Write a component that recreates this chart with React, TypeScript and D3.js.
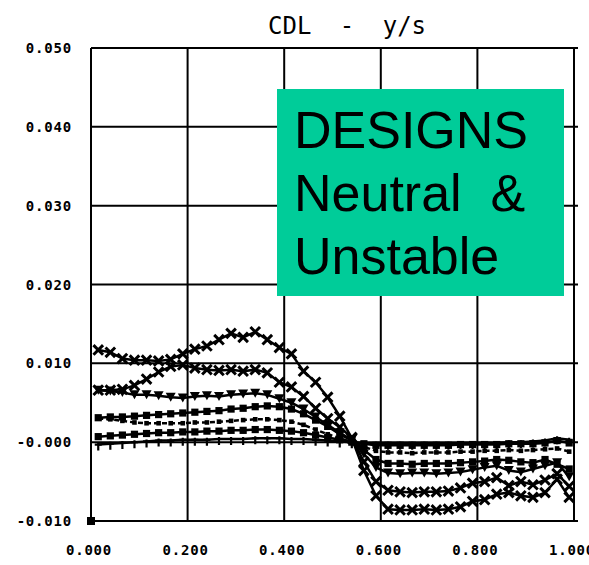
import React from "react";
import * as d3 from "d3";

const xs = [0.015,0.04,0.065,0.09,0.115,0.14,0.165,0.19,0.215,0.24,0.265,0.29,0.315,0.34,0.365,0.39,0.415,0.44,0.465,0.49,0.515,0.54,0.565,0.59,0.615,0.64,0.665,0.69,0.715,0.74,0.765,0.79,0.815,0.84,0.865,0.89,0.915,0.94,0.965,0.99];

const seriesA = [0.0117,0.0114,0.0106,0.0104,0.0104,0.0103,0.0105,0.0112,0.0118,0.0122,0.0130,0.0138,0.0133,0.0140,0.0130,0.0120,0.0112,0.0090,0.0076,0.0057,0.0033,0.0005,-0.0036,-0.0068,-0.0085,-0.0086,-0.0086,-0.0085,-0.0086,-0.0085,-0.0082,-0.0075,-0.0073,-0.0066,-0.0064,-0.0068,-0.0070,-0.0064,-0.0047,-0.0070];
const seriesB = [0.0066,0.0066,0.0067,0.0072,0.0080,0.0089,0.0096,0.0098,0.0094,0.0092,0.0091,0.0092,0.0090,0.0092,0.0088,0.0076,0.0070,0.0058,0.0043,0.0030,0.0019,0.0006,-0.0025,-0.0050,-0.0061,-0.0063,-0.0064,-0.0063,-0.0063,-0.0062,-0.0058,-0.0052,-0.0050,-0.0045,-0.0055,-0.0050,-0.0054,-0.0048,-0.0040,-0.0056];
const seriesB2 = [0.0066,0.0065,0.0063,0.0060,0.0060,0.0059,0.0057,0.0056,0.0058,0.0059,0.0058,0.0060,0.0061,0.0062,0.0060,0.0055,0.0050,0.0042,0.0032,0.0022,0.0012,0.0003,-0.0015,-0.0032,-0.0039,-0.0040,-0.0039,-0.0039,-0.0040,-0.0039,-0.0038,-0.0035,-0.0032,-0.0030,-0.0036,-0.0038,-0.0034,-0.0030,-0.0026,-0.0044];
const seriesC = [0.0031,0.0032,0.0032,0.0033,0.0034,0.0035,0.0036,0.0037,0.0038,0.0039,0.0040,0.0042,0.0043,0.0045,0.0046,0.0045,0.0042,0.0036,0.0028,0.0020,0.0010,0.0002,-0.0010,-0.0022,-0.0027,-0.0027,-0.0028,-0.0027,-0.0027,-0.0027,-0.0026,-0.0025,-0.0024,-0.0022,-0.0023,-0.0025,-0.0026,-0.0022,-0.0028,-0.0034];
const seriesC2 = [0.0030,0.0029,0.0027,0.0025,0.0024,0.0024,0.0024,0.0024,0.0025,0.0025,0.0026,0.0027,0.0028,0.0029,0.0029,0.0028,0.0026,0.0022,0.0016,0.0010,0.0005,0.0000,-0.0006,-0.0011,-0.0013,-0.0013,-0.0014,-0.0013,-0.0013,-0.0013,-0.0012,-0.0012,-0.0011,-0.0011,-0.0010,-0.0011,-0.0010,-0.0009,-0.0008,-0.0012];
const seriesD = [0.0007,0.0008,0.0009,0.0010,0.0011,0.0012,0.0012,0.0013,0.0013,0.0014,0.0014,0.0015,0.0015,0.0016,0.0016,0.0015,0.0014,0.0012,0.0009,0.0006,0.0003,0.0000,-0.0002,-0.0004,-0.0004,-0.0004,-0.0004,-0.0004,-0.0004,-0.0004,-0.0003,-0.0003,-0.0003,-0.0003,-0.0002,-0.0002,-0.0002,-0.0001,0.0002,-0.0001];
const seriesE = [-0.0003,-0.0002,-0.0001,0.0000,0.0001,0.0002,0.0002,0.0003,0.0003,0.0003,0.0004,0.0004,0.0004,0.0005,0.0005,0.0005,0.0004,0.0004,0.0003,0.0002,0.0001,0.0000,-0.0001,-0.0002,-0.0002,-0.0002,-0.0002,-0.0002,-0.0002,-0.0002,-0.0001,-0.0001,-0.0001,-0.0001,0.0000,0.0000,0.0001,0.0002,0.0005,0.0003];

const xTicks = [0, 0.2, 0.4, 0.6, 0.8, 1.0];
const xTickLabels = ["0.000", "0.200", "0.400", "0.600", "0.800", "1.000"];
const yTicks = [0.05, 0.04, 0.03, 0.02, 0.01, 0.0, -0.01];
const yTickLabels = ["0.050", "0.040", "0.030", "0.020", "0.010", "-0.000", "-0.010"];
const titleText = "CDL - y/s";
const boxLines = ["DESIGNS", "Neutral  &", "Unstable"];

type Marker = "x" | "v" | "sq" | "dot" | "plus";
const series: { values: number[]; marker: Marker; dash?: string }[] = [
  { values: seriesE, marker: "plus" },
  { values: seriesD, marker: "sq" },
  { values: seriesC2, marker: "dot", dash: "5 3" },
  { values: seriesC, marker: "sq" },
  { values: seriesB2, marker: "v" },
  { values: seriesB, marker: "x" },
  { values: seriesA, marker: "x" },
];

const x = d3.scaleLinear().domain([0, 1]).range([91, 574]);
const y = d3.scaleLinear().domain([-0.01, 0.05]).range([521, 48]);

function MarkerShape({ m, cx, cy }: { m: Marker; cx: number; cy: number }) {
  if (m === "x") {
    const s = 4.8;
    return (
      <path
        d={`M${cx - s},${cy - s}L${cx + s},${cy + s}M${cx - s},${cy + s}L${cx + s},${cy - s}`}
        stroke="#000"
        strokeWidth={3}
      />
    );
  }
  if (m === "v") {
    return (
      <path
        d={`M${cx - 5},${cy - 4.5}L${cx + 5},${cy - 4.5}L${cx},${cy + 4.5}Z`}
        fill="#000"
      />
    );
  }
  if (m === "sq") {
    return <rect x={cx - 3.6} y={cy - 3.6} width={7.2} height={7.2} fill="#000" />;
  }
  if (m === "dot") {
    return <rect x={cx - 2.3} y={cy - 2.3} width={4.6} height={4.6} fill="#000" />;
  }
  return (
    <path
      d={`M${cx - 3.5},${cy}L${cx + 3.5},${cy}M${cx},${cy - 2}L${cx},${cy + 6}`}
      stroke="#000"
      strokeWidth={2.2}
    />
  );
}

export default function App() {
  const line = d3
    .line<number>()
    .x((_, i) => x(xs[i]))
    .y((d) => y(d));
  const labelFont = "'DejaVu Sans Mono', monospace";
  return (
    <svg
      width={589}
      height={565}
      style={{ position: "absolute", left: 0, top: 0, background: "#fff" }}
    >
      <rect x={0} y={0} width={589} height={565} fill="#fff" />
      <text
        x={268}
        y={34}
        fontFamily={labelFont}
        fontSize={24}
        wordSpacing={14}
        fill="#000"
      >
        {titleText}
      </text>
      {/* grid */}
      {xTicks.map((t) => (
        <line key={"gx" + t} x1={x(t)} x2={x(t)} y1={y(0.05)} y2={y(-0.01)} stroke="#000" strokeWidth={2} />
      ))}
      {yTicks.map((t) => (
        <line key={"gy" + t} x1={x(0)} x2={x(1) + 4} y1={y(t)} y2={y(t)} stroke="#000" strokeWidth={2} />
      ))}
      {/* y labels */}
      {yTicks.map((t, i) => (
        <text
          key={"yl" + t}
          x={72}
          y={y(t) + 5}
          textAnchor="end"
          fontFamily={labelFont}
          fontWeight="bold"
          fontSize={14}
          letterSpacing={0.8}
          fill="#000"
        >
          {yTickLabels[i]}
        </text>
      ))}
      {/* x labels */}
      {xTicks.map((t, i) => (
        <text
          key={"xl" + t}
          x={x(t) - 2}
          y={555}
          textAnchor="middle"
          fontFamily={labelFont}
          fontWeight="bold"
          fontSize={14}
          letterSpacing={0.8}
          fill="#000"
        >
          {xTickLabels[i]}
        </text>
      ))}
      {/* series */}
      {series.map((s, si) => (
        <g key={"s" + si}>
          <path
            d={line(s.values) || ""}
            fill="none"
            stroke="#000"
            strokeWidth={2.5}
            strokeDasharray={s.dash}
          />
          {s.values.map((v, i) => (
            <MarkerShape key={i} m={s.marker} cx={x(xs[i])} cy={y(v)} />
          ))}
        </g>
      ))}
      <rect x={x(0) - 4} y={y(-0.01) - 4} width={8} height={8} fill="#000" />
      {/* annotation box */}
      <rect x={277} y={89} width={287} height={207} fill="#00CC99" />
      {boxLines.map((l, i) => (
        <text
          key={"bl" + i}
          x={294}
          y={148 + i * 63}
          fontFamily="'Liberation Sans', Arial, sans-serif"
          fontSize={52}
          fill="#000"
          style={{ whiteSpace: "pre" }}
        >
          {l}
        </text>
      ))}
    </svg>
  );
}
